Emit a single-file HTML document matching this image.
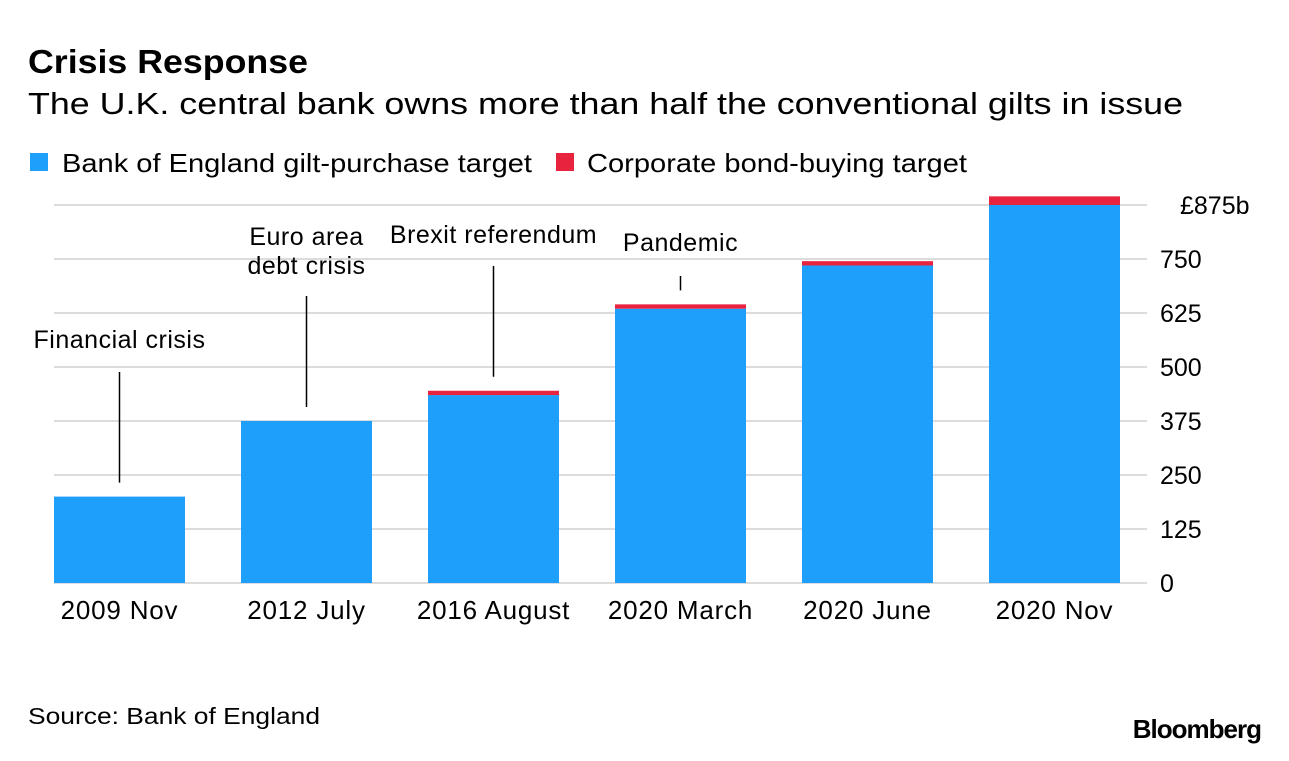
<!DOCTYPE html>
<html><head><meta charset="utf-8"><style>
body{margin:0;background:#fff;width:1289px;height:756px;overflow:hidden;font-family:"Liberation Sans",Arial,sans-serif;}
svg text{font-family:"Liberation Sans",Arial,sans-serif;}
</style></head><body>
<svg id="chart" width="1289" height="756">
<text x="28" y="73" font-size="33" font-weight="bold" fill="#000" textLength="280" lengthAdjust="spacingAndGlyphs">Crisis Response</text>
<text x="28" y="114" font-size="31" fill="#000" textLength="1155" lengthAdjust="spacingAndGlyphs">The U.K. central bank owns more than half the conventional gilts in issue</text>
<g>
<rect x="30" y="153" width="18" height="18" fill="#1e9ffc"/>
<text x="62" y="172" font-size="26" textLength="470" lengthAdjust="spacingAndGlyphs">Bank of England gilt-purchase target</text>
<rect x="556" y="153" width="18" height="18" fill="#e8233d"/>
<text x="587" y="172" font-size="26" textLength="380" lengthAdjust="spacingAndGlyphs">Corporate bond-buying target</text>
</g>
<g id="grid"></g>
<g id="bars"></g>
<g id="ann"></g>
<text x="28" y="724" font-size="23" textLength="292" lengthAdjust="spacingAndGlyphs">Source: Bank of England</text>
<text x="1261" y="738" font-size="26" font-weight="bold" text-anchor="end" letter-spacing="-1">Bloomberg</text>
</svg>
<script>
const categories=["2009 Nov","2012 July","2016 August","2020 March","2020 June","2020 Nov"];
const giltValues=[200,375,435,635,735,875];
const corpValues=[0,0,10,10,10,20];
const ticks=[0,125,250,375,500,625,750,875];
const tickLabels=["0","125","250","375","500","625","750","£875b"];
const annLabels=[["Financial crisis"],["Euro area","debt crisis"],["Brexit referendum"],["Pandemic"]];
const annTopY=[372,296,266,276];
const annLabelY=[348,245,243,251];

const NS="http://www.w3.org/2000/svg";
const y0=583,pxPer=54/125;
const y=v=>y0-v*pxPer;
const barX=i=>54+i*187, barW=131;
function mk(t,a,p){const e=document.createElementNS(NS,t);for(const k in a)e.setAttribute(k,a[k]);p.appendChild(e);return e;}
const grid=document.getElementById('grid'),bars=document.getElementById('bars'),ann=document.getElementById('ann');
ticks.forEach((t,i)=>{
 const l=mk('line',{x1:54,x2:1147,y1:y(t),y2:y(t),stroke:'#dcdcdc','stroke-width':2},grid);
 
 
 const lab=tickLabels[i];
 const tx=mk('text',{x:lab.length>3?1180:1160,y:y(t)+9,'font-size':25,fill:'#000'},grid);
 tx.textContent=lab;
 
 
});
categories.forEach((c,i)=>{
 const b=mk('rect',{x:barX(i),y:y(giltValues[i]),width:barW,height:giltValues[i]*pxPer,fill:'#1e9ffc'},bars);
 
 
 if(corpValues[i]>0){
  const r=mk('rect',{x:barX(i),y:y(giltValues[i]+corpValues[i]),width:barW,height:corpValues[i]*pxPer,fill:'#e8233d'},bars);
  
  
 }
 const t=mk('text',{x:barX(i)+barW/2,y:619,'font-size':26,'text-anchor':'middle','transform':'','style':'letter-spacing:0.8px'},bars);
 t.textContent=c;
 
 
});
annLabels.forEach((lines,i)=>{
 const cx=barX(i)+barW/2;
 const bottom=y(giltValues[i]+corpValues[i])-14;
 const l=mk('line',{x1:cx,x2:cx,y1:annTopY[i],y2:bottom,stroke:'#000','stroke-width':1.5},ann);
 
 
 lines.forEach((s,j)=>{
  const t=mk('text',{x:cx,y:annLabelY[i]+j*29,'font-size':25,'text-anchor':'middle','style':'letter-spacing:0.5px'},ann);
  t.textContent=s;
  
  
 });
});
</script>
</body></html>
